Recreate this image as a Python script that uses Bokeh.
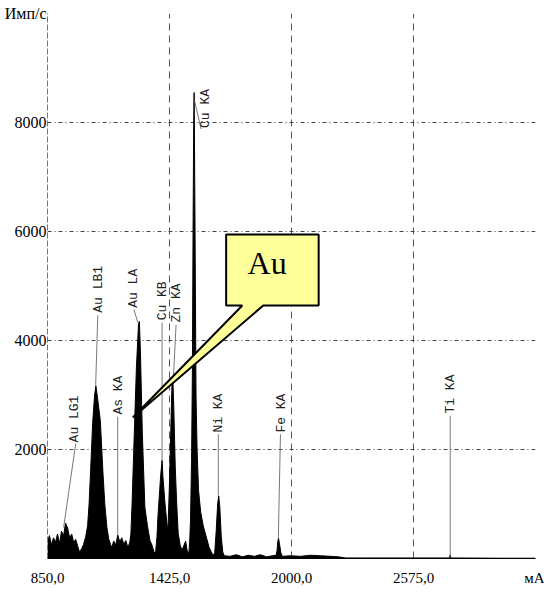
from math import pi
from bokeh.plotting import figure
from bokeh.models import FixedTicker, Range1d
from bokeh.core.properties import value
from bokeh.embed import file_html
from bokeh.resources import INLINE

# ---- spectrum outline (channel, counts/s) ----
energy = [850, 859, 869, 878, 888, 897, 907, 916, 926, 935, 945, 954, 964, 973, 983, 992,
          1001, 1011, 1020, 1030, 1039, 1046, 1053, 1063, 1072, 1078, 1084, 1099, 1111, 1120,
          1130, 1139, 1148, 1153, 1162, 1172, 1181, 1191, 1200, 1210, 1219, 1229, 1238,
          1243, 1248, 1259, 1269, 1279, 1283, 1288, 1297, 1309, 1321, 1333, 1342, 1352, 1359,
          1366, 1371, 1383, 1390, 1394, 1404, 1414, 1418,
          1425, 1432, 1437, 1441, 1445, 1452, 1459, 1466, 1475, 1484, 1494, 1501, 1508, 1516,
          1520, 1524, 1529, 1533, 1536, 1539, 1541, 1543, 1547, 1550, 1555, 1562, 1572, 1584,
          1598, 1612, 1622, 1631,
          1638, 1645, 1652, 1657, 1662, 1669, 1676, 1683,
          1711, 1740, 1768, 1797, 1825, 1853, 1882, 1910, 1927,
          1932, 1936, 1939, 1943, 1950, 1957,
          1995, 2043, 2090, 2137, 2185, 2222, 2255, 2327, 2516, 2745, 2748, 2751, 2989, 3150]
counts = [300, 420, 250, 380, 300, 450, 280, 500, 420, 650, 560, 380, 450, 300, 350, 230,
          120, 180, 260, 400, 600, 1000, 1600, 2500, 3000, 3170, 3000, 2530, 1600, 1000,
          570, 350, 250, 200, 320, 250, 430, 300, 380, 260, 330, 200, 300,
          450, 940, 2290, 3500, 4300, 4350, 3800, 2290, 940, 600, 330, 250, 120, 90,
          400, 800, 1500, 1800, 1500, 1000, 600, 560,
          1400, 2500, 3250, 3270, 2800, 1700, 1000, 460, 250, 150, 250, 320, 150, 80,
          300, 700, 1800, 3500, 6000, 8000, 8550, 7500, 5000, 3000, 2000, 1250, 850, 600,
          400, 200, 120, 60,
          100, 500, 1000, 1150, 950, 400, 120, 50,
          40, 70, 30, 60, 40, 70, 30, 50, 60,
          150, 330, 370, 280, 100, 40,
          50, 40, 60, 50, 40, 30, 10, 10, 10, 10, 60, 10, 5, 5]

x_ticks = [850, 1425, 2000, 2575, 3150]
x_tick_labels = ["850,0", "1425,0", "2000,0", "2575,0", "мA"]
y_ticks = [0, 2000, 4000, 6000, 8000, 10000]
y_tick_labels = ["", "2000", "4000", "6000", "8000", "Имп/с"]

# ---- element line labels ----
line_names = ["Au LG1", "Au LB1", "As KA", "Au LA", "Cu KB", "Zn KA", "Cu KA", "Ni KA", "Fe KA", "Ti KA"]
label_x = [978, 1091, 1186, 1257, 1394, 1456, 1593, 1655, 1953, 2748]
label_y = [2130, 4510, 2640, 4600, 4370, 4330, 7900, 2310, 2310, 2660]
leader_x0 = [983, 1087, 1181, 1257, 1390, 1456, 1574, 1655, 1948, 2748]
leader_y0 = [2110, 4460, 2600, 4570, 4330, 4290, 7880, 2280, 2280, 2620]
leader_x1 = [926, 1077, 1181, 1276, 1390, 1442, 1543, 1655, 1938, 2748]
leader_y1 = [570, 3175, 430, 4330, 1800, 3210, 8400, 1160, 370, 0]

callout_text = "Au"
callout_xs = [1692, 2128, 2128, 1867, 1252, 1768, 1692]
callout_ys = [5945, 5945, 4643, 4643, 2587, 4643, 4643]
callout_pos = (1885, 5420)

p = figure(width=544, height=592, output_backend="svg", toolbar_location=None,
           x_range=Range1d(850, 3150), y_range=Range1d(0, 10000),
           min_border_left=47, min_border_right=9, min_border_top=13, min_border_bottom=34)
p.outline_line_color = None
p.background_fill_color = "white"
p.border_fill_color = "white"

# grids
p.xgrid.ticker = FixedTicker(ticks=[1425, 2000, 2575, 3150])
p.xgrid.grid_line_color = "#555555"
p.xgrid.grid_line_dash = "7 5"
p.xgrid.grid_line_width = 1
p.ygrid.ticker = FixedTicker(ticks=[2000, 4000, 6000, 8000, 10000])
p.ygrid.grid_line_color = "#444444"
p.ygrid.grid_line_dash = "4 3 1 3"
p.ygrid.grid_line_width = 1

# axes
p.xaxis.ticker = FixedTicker(ticks=x_ticks)
p.xaxis.major_label_overrides = dict(zip(x_ticks, x_tick_labels))
p.yaxis.ticker = FixedTicker(ticks=y_ticks)
p.yaxis.major_label_overrides = dict(zip(y_ticks, y_tick_labels))
for ax in (p.xaxis[0], p.yaxis[0]):
    ax.major_tick_line_color = None
    ax.minor_tick_line_color = None
    ax.major_tick_out = 0
    ax.major_tick_in = 0
    ax.minor_tick_out = 0
    ax.minor_tick_in = 0
    ax.major_label_text_font = "Liberation Serif"
    ax.major_label_text_color = "black"
p.xaxis[0].major_label_text_font_size = "15px"
p.yaxis[0].major_label_text_font_size = "16px"
p.xaxis[0].major_label_standoff = 11
p.yaxis[0].major_label_standoff = 1
p.xaxis[0].axis_line_color = "black"
p.xaxis[0].axis_line_width = 1.2
p.yaxis[0].axis_line_color = "#777777"
p.yaxis[0].axis_line_dash = "6 2"

# spectrum
p.varea(x=energy, y1=0, y2=counts, fill_color="black")
p.line(energy, counts, line_color="black", line_width=1)

# leaders and labels
p.segment(x0=leader_x0, y0=leader_y0, x1=leader_x1, y1=leader_y1,
          line_color="#555555", line_width=0.8)
p.text(x=label_x, y=label_y, text=line_names, angle=pi / 2,
       text_align="left", text_baseline="middle",
       text_font=value("Liberation Mono"), text_font_size="13px", text_color="#222222")

# callout
p.patch(callout_xs, callout_ys, fill_color="#FFFF99", line_color="black", line_width=2)
p.text(x=[callout_pos[0]], y=[callout_pos[1]], text=[callout_text],
       text_align="center", text_baseline="middle",
       text_font=value("Liberation Serif"), text_font_size="32px", text_color="black")

open("out.html", "w").write(file_html(p, INLINE))
